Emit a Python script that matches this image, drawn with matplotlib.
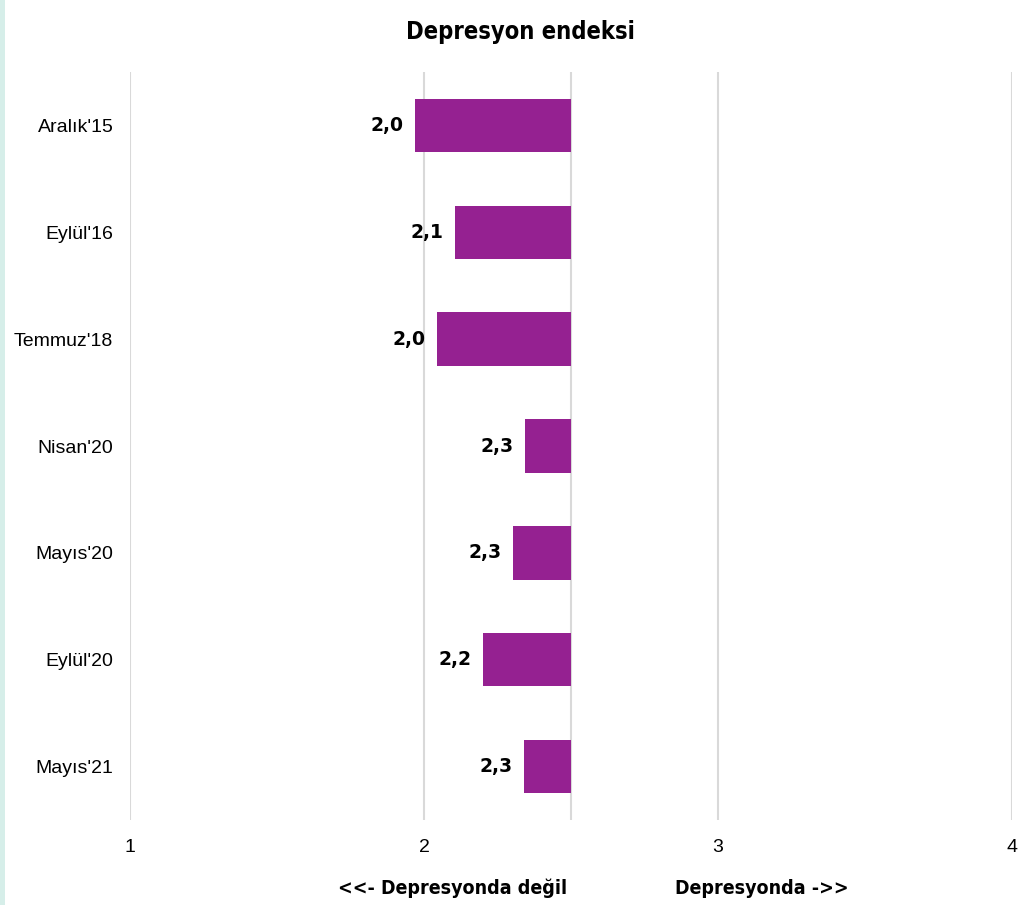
import matplotlib
matplotlib.use("Agg")
import matplotlib.pyplot as plt
from matplotlib.patches import Rectangle

# data
categories = ["Aralık'15", "Eylül'16", "Temmuz'18", "Nisan'20", "Mayıs'20", "Eylül'20", "Mayıs'21"]
values = [1.97, 2.105, 2.044, 2.344, 2.303, 2.201, 2.34]
labels = ["2,0", "2,1", "2,0", "2,3", "2,3", "2,2", "2,3"]
midpoint = 2.5
xticks = [1, 2, 3, 4]

bar_color = "#952191"
grid_color = "#d9d9d9"

fig = plt.figure(figsize=(10.2, 9.05), dpi=100)
fig.patch.set_facecolor("white")

# thin teal strip on the left edge
fig.patches.append(Rectangle((0, 0), 5 / 1020, 1, transform=fig.transFigure,
                             facecolor="#d6eee9", edgecolor="none", zorder=0))

ax = fig.add_axes([130 / 1020, 1 - 820 / 905, 882 / 1020, 748 / 905])

y = list(range(len(categories)))
ax.barh(y, [v - midpoint for v in values], left=midpoint, height=0.5,
        color=bar_color, zorder=3)

for yi, v, lab in zip(y, values, labels):
    ax.text(v - 0.04, yi, lab, ha="right", va="center", fontsize=13.5,
            fontweight="heavy", color="black", family="DejaVu Sans")

ax.set_xlim(1, 4)
ax.set_ylim(len(categories) - 0.5, -0.5)
ax.set_xticks(xticks)
ax.set_xticklabels([str(t) for t in xticks], fontsize=14, family="Liberation Sans")
ax.set_yticks(y)
ax.set_yticklabels(categories, fontsize=14, family="Liberation Sans")
ax.tick_params(axis="both", length=0)
ax.tick_params(axis="y", pad=12)
ax.tick_params(axis="x", pad=14)

for x in xticks + [midpoint]:
    ax.axvline(x, color=grid_color, lw=1.5, zorder=1)
for s in ax.spines.values():
    s.set_visible(False)

fig.text(0.51, 1 - 32 / 905, "Depresyon endeksi", ha="center", va="center",
         fontsize=17, fontweight="bold", family="DejaVu Sans", fontstretch="condensed")
fig.text(453 / 1020, 1 - 888 / 905, "<<- Depresyonda değil", ha="center", va="center",
         fontsize=14, fontweight="bold", family="DejaVu Sans", fontstretch="condensed")
fig.text(762 / 1020, 1 - 888 / 905, "Depresyonda ->>", ha="center", va="center",
         fontsize=14, fontweight="bold", family="DejaVu Sans", fontstretch="condensed")

fig.savefig("out.png", dpi=100)
